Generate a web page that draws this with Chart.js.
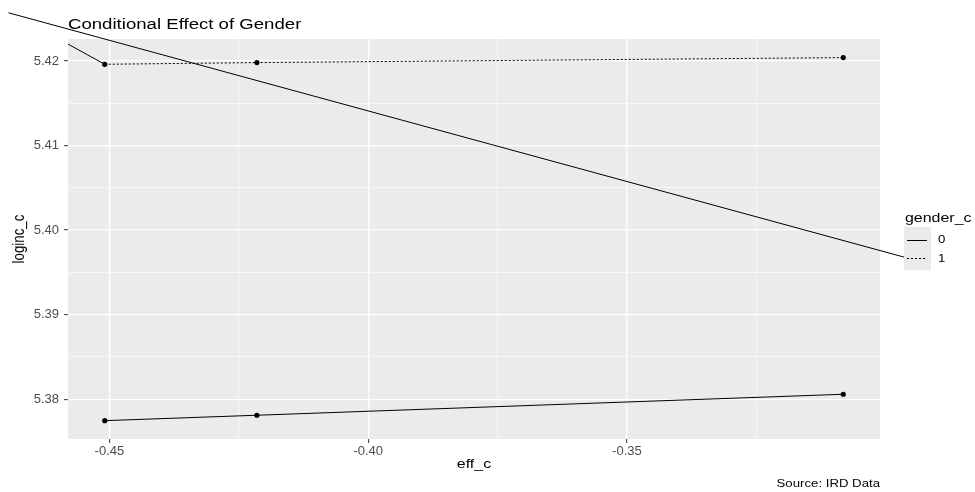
<!DOCTYPE html>
<html>
<head>
<meta charset="utf-8">
<script src="https://cdn.jsdelivr.net/npm/chart.js@4.4.1/dist/chart.umd.min.js"></script>
<style>
  html, body { margin: 0; padding: 0; background: #fff; }
  #chart { display: block; }
</style>
</head>
<body>
<canvas id="chart" width="975" height="492"></canvas>
<script>
// values
const effX = [-0.4509, -0.4215, -0.3082];
const gender0 = [5.37747, 5.37811, 5.38059];
const gender1 = [5.41961, 5.41981, 5.42040];
// the two stray segments
const trendX = [-0.4695, -0.2958];
const trendY = [5.4257, 5.3967];
const stubX = [-0.4580, -0.4509];
const stubY = [5.4220, 5.41961];

const xTicks = [-0.45, -0.40, -0.35];
const xMinor = [-0.425, -0.375, -0.325];
const yTicks = [5.38, 5.39, 5.40, 5.41, 5.42];
const yMinor = [5.385, 5.395, 5.405, 5.415];

const FONT = "'Liberation Sans', Arial, sans-serif";
const SX = 1.2; // picture is a bit stretched sideways

const pts = (xs, ys) => xs.map((x, i) => ({ x: x, y: ys[i] }));

function setTicks(major, minor) {
    return function (scale) {
        const t = major.map(v => ({ value: v, minor: false }))
            .concat(minor.map(v => ({ value: v, minor: true })));
        t.sort((a, b) => a.value - b.value);
        scale.ticks = t;
    };
}

const gridOpts = {
    color: '#ffffff',
    lineWidth: c => (c.tick && c.tick.minor) ? 0.6 : 1.3,
    tickLength: 4,
    tickWidth: 1,
    tickColor: c => (c.tick && c.tick.minor) ? 'rgba(0,0,0,0)' : '#333333'
};

const panelBg = {
    id: 'panelBg',
    beforeDraw(chart) {
        const { ctx, chartArea: a } = chart;
        ctx.save();
        ctx.fillStyle = '#ebebeb';
        ctx.fillRect(a.left, a.top, a.right - a.left, a.bottom - a.top);
        ctx.restore();
    }
};

function stretchText(ctx, text, x, y, align) {
    ctx.save();
    ctx.translate(x, y);
    ctx.scale(SX, 1);
    ctx.textAlign = align;
    ctx.fillText(text, 0, 0);
    ctx.restore();
}

const labels = {
    id: 'labels',
    afterDraw(chart) {
        const { ctx, chartArea: a } = chart;
        ctx.save();
        ctx.fillStyle = '#000';
        ctx.textBaseline = 'alphabetic';

        ctx.font = '15.5px ' + FONT;
        stretchText(ctx, 'Conditional Effect of Gender', a.left, 29, 'left');

        ctx.font = '13.3px ' + FONT;
        ctx.textBaseline = 'middle';
        stretchText(ctx, 'eff_c', (a.left + a.right) / 2, 464, 'center');

        ctx.save();
        ctx.translate(20, (a.top + a.bottom) / 2);
        ctx.rotate(-Math.PI / 2);
        ctx.scale(1, SX);
        ctx.textAlign = 'center';
        ctx.fillText('loginc_c', 0, 0);
        ctx.restore();

        ctx.font = '11px ' + FONT;
        stretchText(ctx, 'Source: IRD Data', a.right, 484, 'right');

        // legend
        ctx.font = '13.3px ' + FONT;
        ctx.textBaseline = 'alphabetic';
        stretchText(ctx, 'gender_c', 905, 222, 'left');
        ctx.fillStyle = '#ebebeb';
        ctx.fillRect(904, 227, 27, 43);
        ctx.strokeStyle = '#000';
        ctx.lineWidth = 1;
        ctx.beginPath();
        ctx.moveTo(907, 240.5);
        ctx.lineTo(927, 240.5);
        ctx.stroke();
        ctx.setLineDash([2, 2]);
        ctx.beginPath();
        ctx.moveTo(907, 258.5);
        ctx.lineTo(927, 258.5);
        ctx.stroke();
        ctx.setLineDash([]);
        ctx.fillStyle = '#000';
        ctx.font = '11px ' + FONT;
        ctx.textBaseline = 'middle';
        stretchText(ctx, '0', 938, 240, 'left');
        stretchText(ctx, '1', 938, 259, 'left');
        ctx.restore();
    }
};

const lineBase = { borderColor: '#000', borderWidth: 1, pointRadius: 0, tension: 0, fill: false };

new Chart(document.getElementById('chart'), {
    type: 'line',
    data: {
        datasets: [
            Object.assign({}, lineBase, {
                label: '0', data: pts(effX, gender0),
                pointRadius: 2.6, pointBackgroundColor: '#000', pointBorderWidth: 0
            }),
            Object.assign({}, lineBase, {
                label: '1', data: pts(effX, gender1), borderDash: [2, 2],
                pointRadius: 2.6, pointBackgroundColor: '#000', pointBorderWidth: 0
            }),
            Object.assign({}, lineBase, { label: 'trend', data: pts(trendX, trendY), clip: false }),
            Object.assign({}, lineBase, { label: 'stub', data: pts(stubX, stubY), clip: false })
        ]
    },
    options: {
        responsive: false,
        animation: false,
        devicePixelRatio: 1,
        layout: { padding: { top: 39, right: 95, left: 0, bottom: 0 } },
        plugins: { legend: { display: false }, tooltip: { enabled: false }, title: { display: false } },
        scales: {
            x: {
                type: 'linear',
                min: -0.4580,
                max: -0.3011,
                afterBuildTicks: setTicks(xTicks, xMinor),
                afterFit: s => { s.height = 53; },
                grid: gridOpts,
                border: { display: false },
                ticks: {
                    padding: 1,
                    color: '#4d4d4d',
                    font: { family: FONT, size: 13 },
                    maxRotation: 0,
                    callback: (v, i, t) => t[i].minor ? '' : v.toFixed(2)
                }
            },
            y: {
                type: 'linear',
                min: 5.3753,
                max: 5.4226,
                afterBuildTicks: setTicks(yTicks, yMinor),
                afterFit: s => { s.width = 68; },
                grid: gridOpts,
                border: { display: false },
                ticks: {
                    padding: 5,
                    color: '#4d4d4d',
                    font: { family: FONT, size: 13 },
                    callback: (v, i, t) => t[i].minor ? '' : v.toFixed(2)
                }
            }
        }
    },
    plugins: [panelBg, labels]
});
</script>
</body>
</html>
